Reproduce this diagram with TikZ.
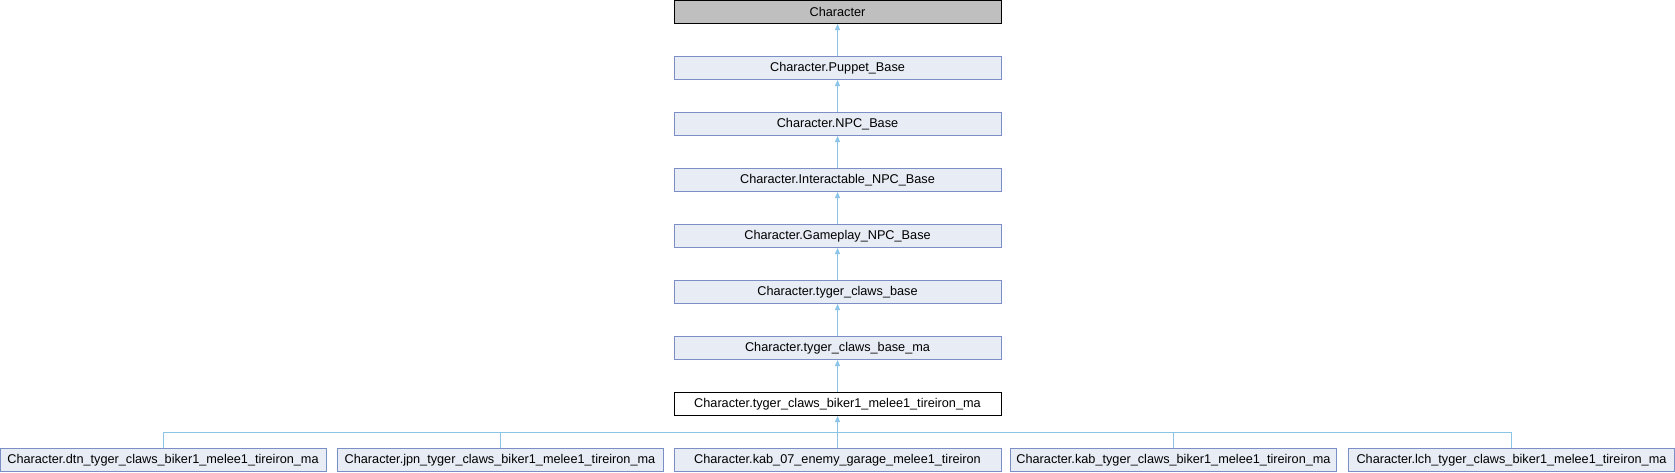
\documentclass[tikz,border=0pt]{standalone}
\usepackage{fontspec}
\setmainfont{Liberation Sans}
\usetikzlibrary{arrows.meta}
\definecolor{boxfill}{HTML}{E8ECF4}
\definecolor{boxline}{HTML}{7B8FC6}
\definecolor{edgeblue}{HTML}{8CC4E6}
\definecolor{rootfill}{HTML}{BFBFBF}

\begin{document}
\begin{tikzpicture}[x=1pt, y=-1pt,
    cls/.style={rectangle, draw=boxline, fill=boxfill, line width=1pt, minimum width=327pt, minimum height=23pt, inner sep=0pt, font=\fontsize{12.7}{15}\selectfont},
    inh/.style={draw=edgeblue, line width=1pt, -{Triangle[length=6pt, width=5pt]}},
    link/.style={draw=edgeblue, line width=1pt}]
    \useasboundingbox (0, 0) rectangle (1675, 472);
    \node[cls, fill=rootfill, draw=black] (0) at (837.5, 12) {Character};
    \node[cls] (1) at (837.5, 68) {Character.Puppet\_Base};
    \node[cls] (2) at (837.5, 124) {Character.NPC\_Base};
    \node[cls] (3) at (837.5, 180) {Character.Interactable\_NPC\_Base};
    \node[cls] (4) at (837.5, 236) {Character.Gameplay\_NPC\_Base};
    \node[cls] (5) at (837.5, 292) {Character.tyger\_claws\_base};
    \node[cls] (6) at (837.5, 348) {Character.tyger\_claws\_base\_ma};
    \node[cls, fill=white, draw=black] (7) at (837.5, 404) {Character.tyger\_claws\_biker1\_melee1\_tireiron\_ma};
    \node[cls, minimum width=326pt] (8) at (163, 460) {Character.dtn\_tyger\_claws\_biker1\_melee1\_tireiron\_ma};
    \node[cls, minimum width=326pt] (9) at (500, 460) {Character.jpn\_tyger\_claws\_biker1\_melee1\_tireiron\_ma};
    \node[cls] (10) at (837.5, 460) {Character.kab\_07\_enemy\_garage\_melee1\_tireiron};
    \node[cls, minimum width=326pt] (11) at (1173.5, 460) {Character.kab\_tyger\_claws\_biker1\_melee1\_tireiron\_ma};
    \node[cls, minimum width=326pt] (12) at (1511.5, 460) {Character.lch\_tyger\_claws\_biker1\_melee1\_tireiron\_ma};
    \coordinate (hub) at (837.5, 432.5);
    \draw[inh] (1) -- (0);
    \draw[inh] (2) -- (1);
    \draw[inh] (3) -- (2);
    \draw[inh] (4) -- (3);
    \draw[inh] (5) -- (4);
    \draw[inh] (6) -- (5);
    \draw[inh] (7) -- (6);
    \draw[link] (8.north) |- (hub);
    \draw[link] (9.north) |- (hub);
    \draw[link] (11.north) |- (hub);
    \draw[link] (12.north) |- (hub);
    \draw[inh] (10) -- (hub) -- (7);
\end{tikzpicture}
\end{document}
